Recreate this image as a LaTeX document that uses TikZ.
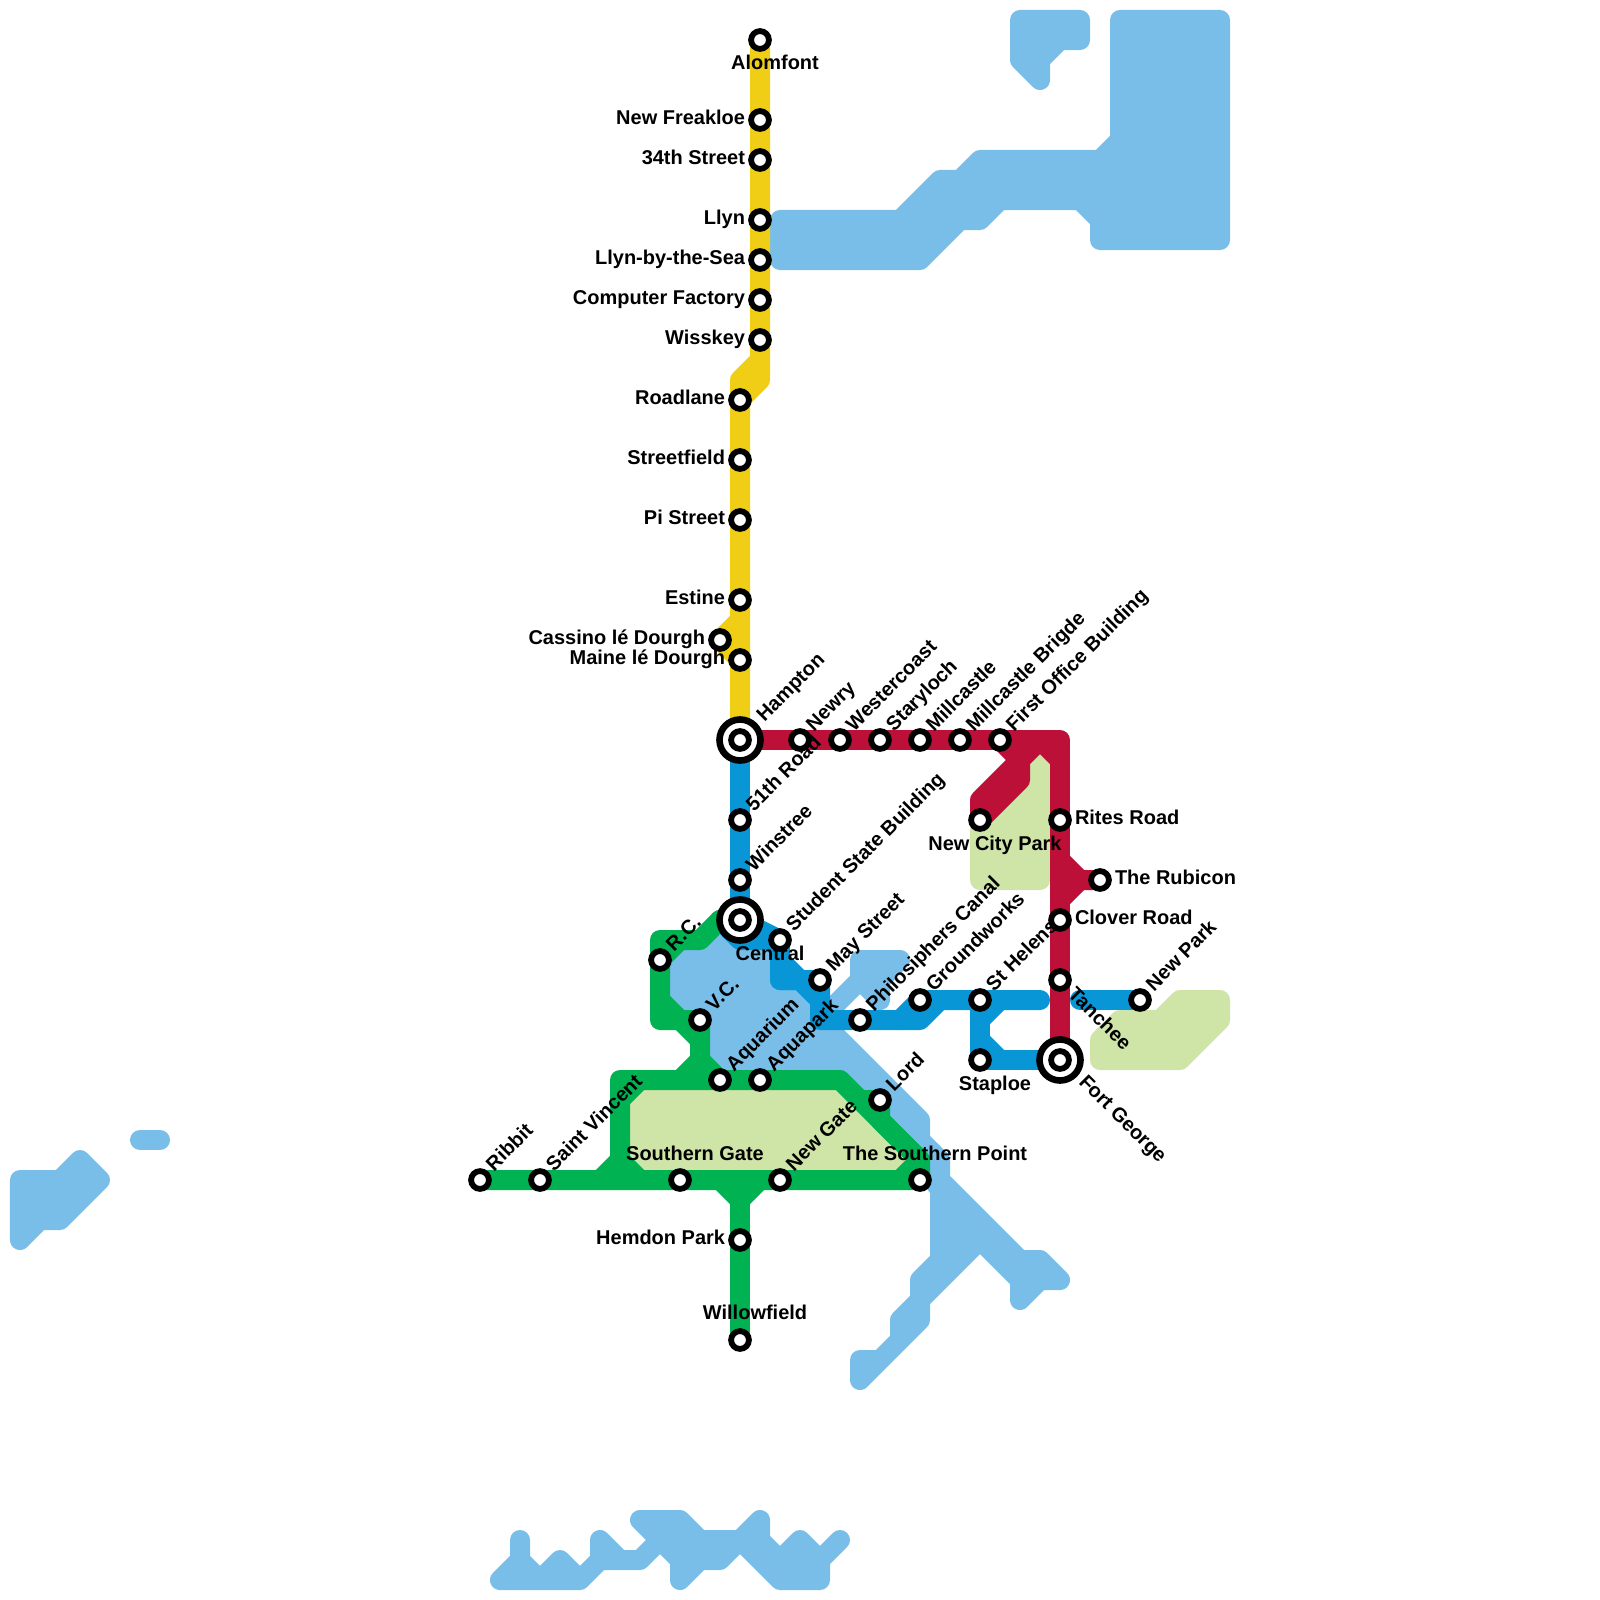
\documentclass[tikz,border=0pt]{standalone}
\usepackage{fontspec}
\setmainfont{Liberation Sans}
\definecolor{cwater}{HTML}{79BDE9}
\definecolor{cpark}{HTML}{CFE4A7}
\definecolor{cred}{HTML}{BD1038}
\definecolor{cblue}{HTML}{0896D7}
\definecolor{cgreen}{HTML}{00B251}
\definecolor{cyellow}{HTML}{F0CE15}
\pgfdeclarelayer{under}
\pgfsetlayers{under,main}
\tikzset{
  wat/.style={fill=cwater,draw=cwater,line width=0.2cm,line join=round,line cap=round},
  prk/.style={fill=cpark,draw=cpark,line width=0.2cm,line join=round,line cap=round},
  rte/.style={draw=#1,line width=0.2cm,line join=round,line cap=round},
  stn/.style={circle,draw=black,fill=white,line width=0.058cm,minimum size=0.178cm,inner sep=0pt,outer sep=0pt},
  hubring/.style={circle,draw=black,fill=white,line width=0.066cm,minimum size=0.41cm,inner sep=0pt,outer sep=0pt},
  lbl/.style={font=\bfseries\fontsize{5.68}{6.8}\selectfont,inner sep=0pt,outer sep=0pt,text=black},
  lblE/.style={lbl,anchor=base east},
  lblW/.style={lbl,anchor=base west},
  lblU/.style={lbl,anchor=base west,rotate=45},
  lblD/.style={lbl,anchor=base west,rotate=-45},
  lblC/.style={lbl,anchor=base}
}
\newcommand{\Stn}[3]{\node[stn] (#1) at (#2,#3) {};}
\newcommand{\Hub}[3]{\node[hubring] (#1) at (#2,#3) {}; \node[stn] (#1in) at (#2,#3) {};}
\newcommand{\LabE}[2]{\node[lblE] (#1txt) at ([shift={(-15,4.5)}]#1.center) {#2};}
\newcommand{\LabW}[2]{\node[lblW] (#1txt) at ([shift={(15,4.5)}]#1.center) {#2};}
\newcommand{\LabU}[2]{\node[lblU] (#1txt) at ([shift={(14,-8)}]#1.center) {#2};}
\newcommand{\LabD}[2]{\node[lblD] (#1txt) at ([shift={(7,15)}]#1.center) {#2};}
\newcommand{\LabC}[4]{\node[lblC] (#1txt) at ([shift={(#3,#4)}]#1.center) {#2};}
\begin{document}
\begin{tikzpicture}[x=0.01cm,y=-0.01cm]
\useasboundingbox (0,0) rectangle (1600,1600);
% stations
\Stn{alomfont}{760}{40}
\Stn{freakloe}{760}{120}
\Stn{street}{760}{160}
\Stn{llyn}{760}{220}
\Stn{llynsea}{760}{260}
\Stn{computer}{760}{300}
\Stn{wisskey}{760}{340}
\Stn{roadlane}{740}{400}
\Stn{streetfield}{740}{460}
\Stn{pistreet}{740}{520}
\Stn{estine}{740}{600}
\Stn{cassino}{720}{640}
\Stn{maine}{740}{660}
\Hub{hampton}{740}{740}
\Stn{newry}{800}{740}
\Stn{westercoast}{840}{740}
\Stn{staryloch}{880}{740}
\Stn{millcastle}{920}{740}
\Stn{brigde}{960}{740}
\Stn{firstoffice}{1000}{740}
\Stn{newcity}{980}{820}
\Stn{rites}{1060}{820}
\Stn{rubicon}{1100}{880}
\Stn{clover}{1060}{920}
\Stn{tanchee}{1060}{980}
\Hub{fortgeorge}{1060}{1060}
\Stn{newpark}{1140}{1000}
\Stn{road}{740}{820}
\Stn{winstree}{740}{880}
\Hub{central}{740}{920}
\Stn{student}{780}{940}
\Stn{may}{820}{980}
\Stn{philos}{860}{1020}
\Stn{groundworks}{920}{1000}
\Stn{helens}{980}{1000}
\Stn{staploe}{980}{1060}
\Stn{rc}{660}{960}
\Stn{vc}{700}{1020}
\Stn{aquarium}{720}{1080}
\Stn{aquapark}{760}{1080}
\Stn{lord}{880}{1100}
\Stn{ribbit}{480}{1180}
\Stn{vincent}{540}{1180}
\Stn{southgate}{680}{1180}
\Stn{newgate}{780}{1180}
\Stn{southpoint}{920}{1180}
\Stn{hemdon}{740}{1240}
\Stn{willow}{740}{1340}
% labels
\LabC{alomfont}{Alomfont}{15}{30}
\LabE{freakloe}{New Freakloe}
\LabE{street}{34th Street}
\LabE{llyn}{Llyn}
\LabE{llynsea}{Llyn-by-the-Sea}
\LabE{computer}{Computer Factory}
\LabE{wisskey}{Wisskey}
\LabE{roadlane}{Roadlane}
\LabE{streetfield}{Streetfield}
\LabE{pistreet}{Pi Street}
\LabE{estine}{Estine}
\LabE{cassino}{Cassino lé Dourgh}
\LabE{maine}{Maine lé Dourgh}
\node[lblU] (hamptontxt) at ([shift={(24.5,-17.5)}]hampton.center) {Hampton};
\LabU{newry}{Newry}
\LabU{westercoast}{Westercoast}
\LabU{staryloch}{Staryloch}
\LabU{millcastle}{Millcastle}
\LabU{brigde}{Millcastle Brigde}
\LabU{firstoffice}{First Office Building}
\LabC{newcity}{New City Park}{15}{30}
\LabW{rites}{Rites Road}
\LabW{rubicon}{The Rubicon}
\LabW{clover}{Clover Road}
\LabD{tanchee}{Tanchee}
\node[lblD] (fortgeorgetxt) at ([shift={(18,23)}]fortgeorge.center) {Fort George};
\LabU{newpark}{New Park}
\LabU{road}{51th Road}
\LabU{winstree}{Winstree}
\LabC{central}{Central}{30}{40}
\LabU{student}{Student State Building}
\LabU{may}{May Street}
\LabU{philos}{Philosiphers Canal}
\LabU{groundworks}{Groundworks}
\LabU{helens}{St Helens}
\LabC{staploe}{Staploe}{15}{30}
\LabU{rc}{R.C.}
\LabU{vc}{V.C.}
\LabU{aquarium}{Aquarium}
\LabU{aquapark}{Aquapark}
\LabU{lord}{Lord}
\LabU{ribbit}{Ribbit}
\LabU{vincent}{Saint Vincent}
\LabC{southgate}{Southern Gate}{15}{-20}
\LabU{newgate}{New Gate}
\LabC{southpoint}{The Southern Point}{15}{-20}
\LabE{hemdon}{Hemdon Park}
\LabC{willow}{Willowfield}{15}{-21}
\begin{pgfonlayer}{under}
% water
\path[wat] (1120,20)--(1220,20)--(1220,240)--(1100,240)--(1100,220)--(1080,200)--(1000,200)--(980,220)--(960,220)--(920,260)--(780,260)--(780,220)--(900,220)--(940,180)--(960,180)--(980,160)--(1100,160)--(1120,140)--cycle;
\path[wat] (1020,20)--(1080,20)--(1080,40)--(1060,40)--(1040,60)--(1040,80)--(1020,60)--cycle;
\path[wat] (20,1180)--(60,1180)--(80,1160)--(100,1180)--(60,1220)--(40,1220)--(20,1240)--cycle;
\path[wat] (140,1140)--(160,1140);
\path[wat] (500,1580)--(520,1560)--(520,1540)--(520,1560)--(540,1580)--(560,1560)--(580,1580)--(600,1560)--(600,1540)--(620,1560)--(640,1560)--(660,1540)--(640,1520)--(680,1520)--(700,1540)--(740,1540)--(760,1520)--(760,1540)--(780,1560)--(800,1540)--(820,1560)--(840,1540)--(820,1560)--(820,1580)--(780,1580)--(740,1540)--(720,1560)--(700,1560)--(680,1580)--(680,1560)--(660,1540)--(640,1560)--(600,1560)--(580,1580)--cycle;
\path[wat] (680,960)--(700,945)--(760,945)--(820,1020)--(920,1120)--(920,1140)--(940,1160)--(940,1180)--(1020,1260)--(1040,1260)--(1060,1280)--(1040,1280)--(1020,1300)--(1020,1280)--(980,1240)--(920,1300)--(920,1320)--(860,1380)--(860,1360)--(880,1360)--(900,1340)--(900,1320)--(920,1300)--(920,1280)--(940,1260)--(940,1190)--(920,1160)--(840,1080)--(720,1080)--(720,1020)--(680,1000)--cycle;
\path[wat] (860,960)--(900,960)--(880,980)--(880,1000)--(860,980)--cycle;
\path[wat] (860,980)--(830,1010);
% parks
\path[prk] (980,830)--(1020,780)--(1020,760)--(1040,760)--(1040,880)--(980,880)--cycle;
\path[prk] (1100,1060)--(1100,1040)--(1120,1020)--(1160,1020)--(1180,1000)--(1220,1000)--(1220,1020)--(1180,1060)--cycle;
\path[fill=cpark] (625,1160)--(625,1100)--(640,1085)--(835,1085)--(915,1165)--(900,1175)--(640,1175)--cycle;
% blue
\path[rte=cblue] (hampton.center)--(road.center)--(winstree.center)--(central.center);
\path[rte=cblue,fill=cblue] (central.center)--(student.center)--(780,960)--(800,980)--(may.center)--(820,1000)--(800,980)--(780,980)--(student.center)--(740,940)--(720,920)--cycle;
\path[rte=cblue] (780,980)--(800,980)--(820,1000)--(820,1020)--(philos.center)--(920,1020)--(940,1000);
\path[rte=cblue] (900,1020)--(groundworks.center)--(helens.center)--(1040,1000);
\path[rte=cblue] (helens.center)--(980,1020)--(staploe.center);
\path[rte=cblue] (1000,1000)--(980,1020);
\path[rte=cblue] (980,1040)--(1000,1060);
\path[rte=cblue] (staploe.center)--(fortgeorge.center);
\path[rte=cblue] (1080,1000)--(newpark.center);
% green
\path[rte=cgreen] (ribbit.center)--(vincent.center)--(southgate.center)--(newgate.center)--(southpoint.center)--(920,1160)--(880,1120)--(lord.center)--(860,1100);
\path[rte=cgreen] (920,1160)--(840,1080)--(aquapark.center)--(aquarium.center)--(620,1080)--(620,1160)--(600,1180);
\path[rte=cgreen] (620,1100)--(640,1080);
\path[rte=cgreen] (620,1160)--(640,1180);
\path[rte=cgreen] (900,1180)--(920,1160);
\path[rte=cgreen] (720,1180)--(740,1200)--(760,1180);
\path[rte=cgreen] (740,1200)--(hemdon.center)--(willow.center);
\path[rte=cgreen] (central.center)--(720,920)--(700,940)--(660,940)--(rc.center)--(660,1020)--(vc.center)--(700,1060)--(680,1080);
\path[rte=cgreen] (700,1060)--(720,1080);
\path[rte=cgreen] (680,1020)--(700,1040);
\path[rte=cgreen] (660,1000)--(680,1020);
\path[rte=cgreen] (rc.center)--(680,940);
% red
\path[rte=cred] (hampton.center)--(newry.center)--(westercoast.center)--(staryloch.center)--(millcastle.center)--(brigde.center)--(firstoffice.center)--(1060,740)--(rites.center)--(clover.center)--(tanchee.center)--(fortgeorge.center);
\path[rte=cred] (firstoffice.center)--(1020,760)--(1020,780)--(newcity.center)--(980,800)--(1020,760)--(1040,740)--(1060,760);
\path[rte=cred] (1060,860)--(1080,880)--(rubicon.center);
\path[rte=cred] (1080,880)--(1060,900);
% yellow
\path[rte=cyellow] (alomfont.center)--(freakloe.center)--(street.center)--(llyn.center)--(llynsea.center)--(computer.center)--(wisskey.center)--(760,380)--(roadlane.center);
\path[rte=cyellow] (760,360)--(740,380)--(roadlane.center)--(streetfield.center)--(pistreet.center)--(estine.center)--(maine.center)--(hampton.center);
\path[rte=cyellow] (740,620)--(cassino.center)--(maine.center);
\end{pgfonlayer}
\end{tikzpicture}
\end{document}
